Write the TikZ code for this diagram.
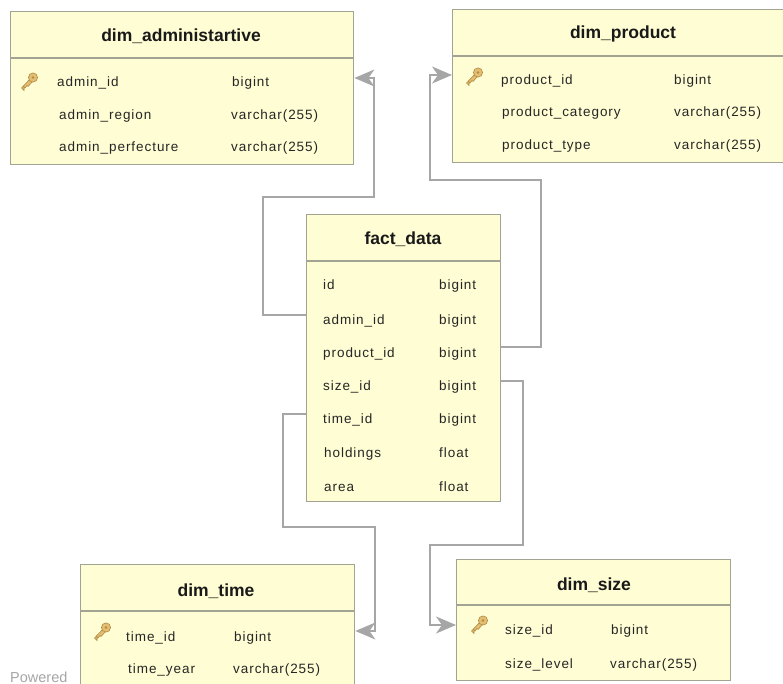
\documentclass[tikz,border=0pt]{standalone}
\usepackage{fontspec}
\setmainfont{Liberation Sans}
\newfontfamily\rowfont[LetterSpace=7]{Liberation Sans}
\usetikzlibrary{arrows.meta}
\definecolor{tablefill}{HTML}{FFFDD3}
\definecolor{tableline}{HTML}{A3A394}
\definecolor{linkline}{HTML}{A6A6A6}
\definecolor{keygold}{HTML}{E3BE72}
\definecolor{keyedge}{HTML}{B08A42}
\tikzset{
  x=1pt,y=-1pt,
  tablebox/.style={draw=tableline,fill=tablefill,line width=1.4pt,rectangle,anchor=north west,inner sep=0pt},
  titletext/.style={font=\fontsize{17.5}{20}\selectfont\bfseries,text=black!90,inner sep=0pt},
  rowtext/.style={font=\fontsize{13.5}{16}\rowfont,text=black!85,anchor=base west,inner sep=0pt},
  sepline/.style={draw=tableline,line width=1.1pt},
  linkpath/.style={draw=linkline,line width=1.3pt},
  linkhead/.style={linkpath,-{Stealth[length=20pt,width=17pt,inset=6pt,fill=linkline]}},
  keyshape/.style={fill=keygold,draw=keyedge,line width=0.6pt},
}
\newcommand{\keyicon}[2]{%
  \begin{scope}[shift={(#1,#2)}]
    \draw[keyshape] (-7.5,7) -- (2,-3) -- (4.5,-0.5) -- (-1,5.5) -- (-2,4.5) -- (-4,7) -- (-5,6) -- (-5,9.5) -- cycle;
    \draw[keyshape] (4,-3.5) circle[radius=4.6];
    \fill[keyedge] (4,-3.5) circle[radius=1.3];
  \end{scope}}
\begin{document}
\begin{tikzpicture}
\useasboundingbox (0,0) rectangle (783,684);
\clip (0,0) rectangle (783,684);
\fill[white] (0,0) rectangle (783,684);
\node[anchor=base west,inner sep=0pt,text=black!35,font=\fontsize{14.5}{16}\selectfont] (powered) at (10,682) {Powered};

% dim_administartive
\node[tablebox,minimum width=343pt,minimum height=153pt] (admin) at (10,11) {};
\draw[sepline] (admin.west |- 0,58) coordinate (adminsepL) -- (admin.east |- 0,58);
\node[titletext] (admintitle) at (181,36) {dim\_administartive};
\keyicon{29}{81}
\node[rowtext] (a1) at (57,87) {admin\_id};
\node[rowtext] (a1t) at (232,87) {bigint};
\node[rowtext] (a2) at (59,120) {admin\_region};
\node[rowtext] (a2t) at (231,120) {varchar(255)};
\node[rowtext] (a3) at (59,152) {admin\_perfecture};
\node[rowtext] (a3t) at (231,152) {varchar(255)};

% dim_product
\node[tablebox,minimum width=345pt,minimum height=153pt] (product) at (452,9) {};
\draw[sepline] (product.west |- 0,56) -- (product.east |- 0,56);
\node[titletext] (producttitle) at (623,34) {dim\_product};
\keyicon{474}{76}
\node[rowtext] (p1) at (501,85) {product\_id};
\node[rowtext] (p1t) at (674,85) {bigint};
\node[rowtext] (p2) at (502,117) {product\_category};
\node[rowtext] (p2t) at (674,117) {varchar(255)};
\node[rowtext] (p3) at (502,150) {product\_type};
\node[rowtext] (p3t) at (674,150) {varchar(255)};

% fact_data
\node[tablebox,minimum width=194pt,minimum height=287pt] (fact) at (306,214) {};
\draw[sepline] (fact.west |- 0,261) -- (fact.east |- 0,261);
\node[titletext] (facttitle) at (403,239) {fact\_data};
\node[rowtext] (f1) at (323,289) {id};
\node[rowtext] (f1t) at (439,289) {bigint};
\node[rowtext] (f2) at (323,324) {admin\_id};
\node[rowtext] (f2t) at (439,324) {bigint};
\node[rowtext] (f3) at (323,357) {product\_id};
\node[rowtext] (f3t) at (439,357) {bigint};
\node[rowtext] (f4) at (323,390) {size\_id};
\node[rowtext] (f4t) at (439,390) {bigint};
\node[rowtext] (f5) at (323,423) {time\_id};
\node[rowtext] (f5t) at (439,423) {bigint};
\node[rowtext] (f6) at (324,457) {holdings};
\node[rowtext] (f6t) at (439,457) {float};
\node[rowtext] (f7) at (324,491) {area};
\node[rowtext] (f7t) at (439,491) {float};

% dim_time
\node[tablebox,minimum width=274pt,minimum height=140pt] (time) at (80,564) {};
\draw[sepline] (time.west |- 0,611) -- (time.east |- 0,611);
\node[titletext] (timetitle) at (216,591) {dim\_time};
\keyicon{102}{631}
\node[rowtext] (t1) at (126,641) {time\_id};
\node[rowtext] (t1t) at (234,641) {bigint};
\node[rowtext] (t2) at (128,673) {time\_year};
\node[rowtext] (t2t) at (233,673) {varchar(255)};

% dim_size
\node[tablebox,minimum width=274pt,minimum height=121pt] (size) at (456,559) {};
\draw[sepline] (size.west |- 0,605) -- (size.east |- 0,605);
\node[titletext] (sizetitle) at (594,585) {dim\_size};
\keyicon{479}{624}
\node[rowtext] (s1) at (505,634) {size\_id};
\node[rowtext] (s1t) at (611,634) {bigint};
\node[rowtext] (s2) at (505,668) {size\_level};
\node[rowtext] (s2t) at (610,668) {varchar(255)};

% connectors
\draw[linkpath] (fact.west |- 0,315) -- (263,315) -- (263,197) -- (374,197) -- (374,78) -- (366,78);
\draw[linkhead] (374,78) -- (admin.east |- 0,78);
\draw[linkpath] (fact.east |- 0,347) -- (541,347) -- (541,180) -- (430,180) -- (430,75) -- (440,75);
\draw[linkhead] (430,75) -- (product.west |- 0,75);
\draw[linkpath] (fact.east |- 0,381) -- (523,381) -- (523,545) -- (430,545) -- (430,625) -- (440,625);
\draw[linkhead] (430,625) -- (size.west |- 0,625);
\draw[linkpath] (fact.west |- 0,414) -- (283,414) -- (283,527) -- (375,527) -- (375,631) -- (366,631);
\draw[linkhead] (375,631) -- (time.east |- 0,631);
\end{tikzpicture}
\end{document}
